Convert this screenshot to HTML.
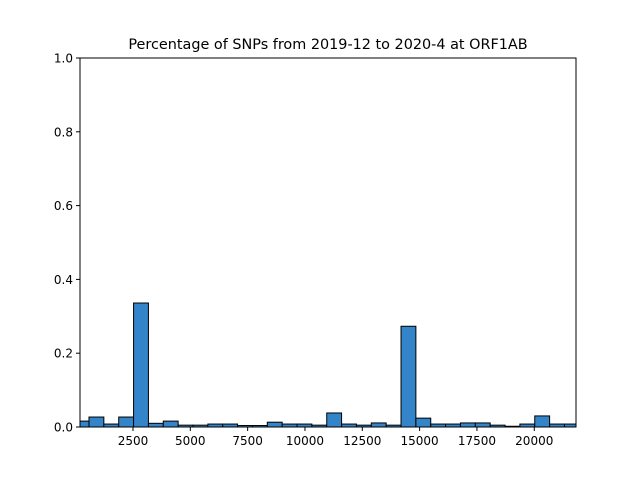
<!DOCTYPE html>
<html><head><meta charset="utf-8"><style>
body{margin:0;background:#fff;}
svg{display:block;font-family:"DejaVu Sans","Liberation Sans",sans-serif;}
</style></head><body>
<svg id="c" width="640" height="480"></svg>
<script>
const binStart = -67;
const binWidth = 648;
const values = [0.016,0.027,0.008,0.027,0.336,0.010,0.016,0.005,0.005,0.008,0.008,0.004,0.004,0.013,0.008,0.008,0.005,0.038,0.008,0.005,0.011,0.005,0.273,0.024,0.008,0.008,0.011,0.011,0.005,0.002,0.008,0.030,0.008,0.008];
const xTicks = [2500,5000,7500,10000,12500,15000,17500,20000];
const yTicks = [0,0.2,0.4,0.6,0.8,1.0];
const xMin = 189, xMax = 21820, yMin = 0, yMax = 1;
const L=80,R=576,T=58,B=427;
const sx=v=>L+(v-xMin)/(xMax-xMin)*(R-L);
const sy=v=>B-(v-yMin)/(yMax-yMin)*(B-T);
const svg=document.getElementById('c');
const NS='http://www.w3.org/2000/svg';
function mk(t,a){const e=document.createElementNS(NS,t);for(const k in a)e.setAttribute(k,a[k]);svg.appendChild(e);return e;}
const clip=document.createElementNS(NS,'clipPath');clip.setAttribute('id','cp');
const cr=document.createElementNS(NS,'rect');cr.setAttribute('x',L);cr.setAttribute('y',T);cr.setAttribute('width',R-L);cr.setAttribute('height',B-T);
clip.appendChild(cr);svg.appendChild(clip);
const g=mk('g',{'clip-path':'url(#cp)'});
values.forEach((v,i)=>{
  const x0=sx(binStart+i*binWidth),x1=sx(binStart+(i+1)*binWidth);
  const r=document.createElementNS(NS,'rect');
  r.setAttribute('x',x0);r.setAttribute('y',sy(v));r.setAttribute('width',x1-x0);r.setAttribute('height',sy(0)-sy(v));
  r.setAttribute('fill','#3384c9');r.setAttribute('stroke','#000');r.setAttribute('stroke-width','1');
  
  
  g.appendChild(r);
});
const fr=mk('rect',{x:L,y:T,width:R-L,height:B-T,fill:'none',stroke:'#000','stroke-width':1});


xTicks.forEach(t=>{
  const x=sx(t);
  mk('line',{x1:x,x2:x,y1:B,y2:B+4,stroke:'#000'});
  const tx=mk('text',{x:x,y:B+18,'font-size':12,'text-anchor':'middle'});tx.textContent=t;
  
  
});
yTicks.forEach(t=>{
  const y=sy(t);
  mk('line',{x1:L-4,x2:L,y1:y,y2:y,stroke:'#000'});
  const tx=mk('text',{x:L-7,y:y+4.5,'font-size':12,'text-anchor':'end'});tx.textContent=t.toFixed(1);
  
  
});
const ti=mk('text',{x:(L+R)/2,y:49,'font-size':14.4,'text-anchor':'middle'});
ti.textContent='Percentage of SNPs from 2019-12 to 2020-4 at ORF1AB';


</script>
</body></html>
